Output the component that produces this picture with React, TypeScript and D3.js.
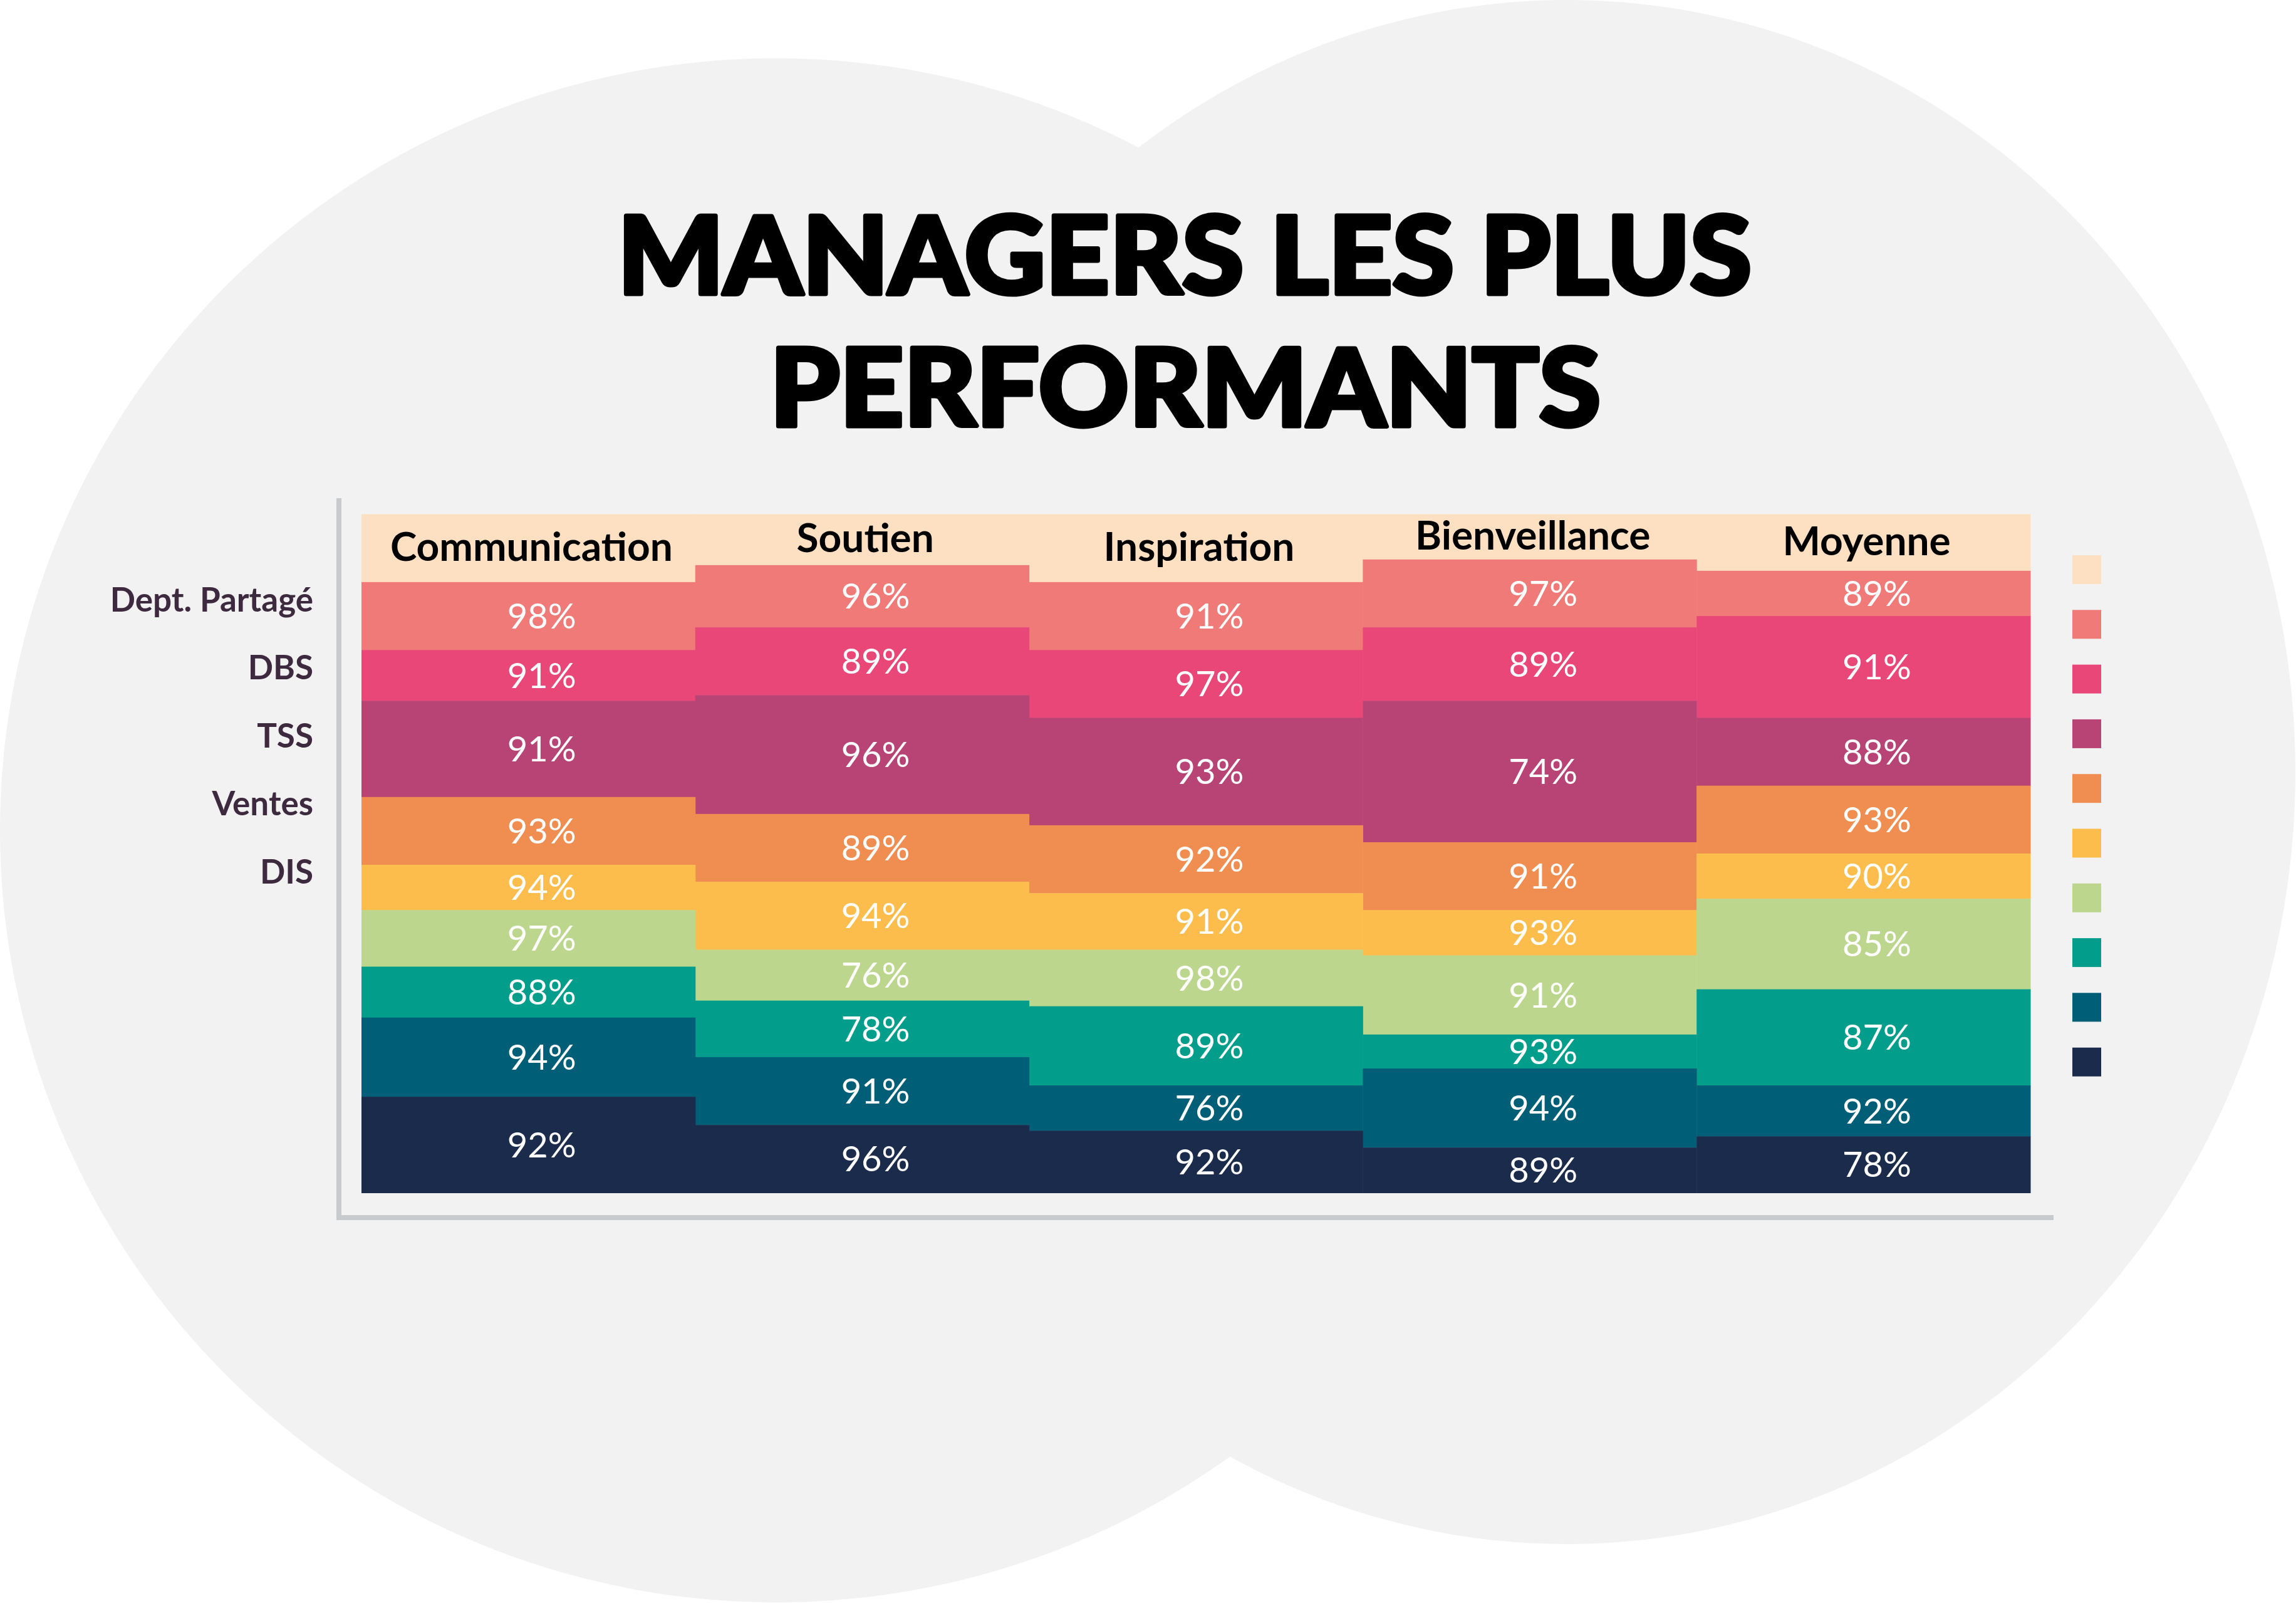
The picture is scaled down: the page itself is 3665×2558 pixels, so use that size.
import React from "react";
import * as d3 from "d3";

// ---------- DATA ----------
const categories = ["Communication", "Soutien", "Inspiration", "Bienveillance", "Moyenne"];

// stack series, top to bottom (first one is the header band)
const seriesKeys = ["header", "s1", "s2", "s3", "s4", "s5", "s6", "s7", "s8", "s9"];
const seriesColors = [
  "#fddfc1", "#ef7a78", "#e84777", "#b84475", "#f08d50",
  "#fcbd4c", "#bcd68e", "#039e8b", "#005f77", "#1b2b4b",
];

// segment sizes (top to bottom) for each category
const communicationSizes = [12, 12, 9, 17, 12, 8, 10, 9, 14, 17];
const soutienSizes = [9, 11, 12, 21, 12, 12, 9, 10, 12, 12];
const inspirationSizes = [12, 12, 12, 19, 12, 10, 10, 14, 8, 11];
const bienveillanceSizes = [8, 12, 13, 25, 12, 8, 14, 6, 14, 8];
const moyenneSizes = [10, 8, 18, 12, 12, 8, 16, 17, 9, 10];

// percentage labels (segments s1..s9)
const communicationLabels = ["98%", "91%", "91%", "93%", "94%", "97%", "88%", "94%", "92%"];
const soutienLabels = ["96%", "89%", "96%", "89%", "94%", "76%", "78%", "91%", "96%"];
const inspirationLabels = ["91%", "97%", "93%", "92%", "91%", "98%", "89%", "76%", "92%"];
const bienveillanceLabels = ["97%", "89%", "74%", "91%", "93%", "91%", "93%", "94%", "89%"];
const moyenneLabels = ["89%", "91%", "88%", "93%", "90%", "85%", "87%", "92%", "78%"];

const rowLabels = ["Dept. Partagé", "DBS", "TSS", "Ventes", "DIS"];
const titleLines = ["MANAGERS LES PLUS", "PERFORMANTS"];

// ---------- LAYOUT ----------
const W = 3665;
const H = 2558;
const FONT = "Lato, 'Open Sans', 'DejaVu Sans', sans-serif";

const allSizes = [communicationSizes, soutienSizes, inspirationSizes, bienveillanceSizes, moyenneSizes];
const allLabels = [communicationLabels, soutienLabels, inspirationLabels, bienveillanceLabels, moyenneLabels];

type Row = { cat: string; [k: string]: any };
const rows: Row[] = categories.map((cat, ci) => {
  const r: Row = { cat };
  seriesKeys.forEach((k, si) => (r[k] = allSizes[ci][si]));
  return r;
});

export default function App() {
  const stack = d3.stack<Row>().keys(seriesKeys).order(d3.stackOrderNone).offset(d3.stackOffsetNone);
  const stacked = stack(rows);
  const total = d3.max(rows, (r) => d3.sum(seriesKeys, (k) => r[k] as number)) as number;

  const x = d3.scaleBand<string>().domain(categories).range([577, 3241]).padding(0);
  const y = d3.scaleLinear().domain([0, total]).range([820.6, 1903.5]);
  const color = d3.scaleOrdinal<string, string>().domain(seriesKeys).range(seriesColors);
  const legendY = d3.scaleBand<string>().domain(seriesKeys).range([886, 886 + 87.3 * seriesKeys.length]);
  const rowY = d3.scalePoint<string>().domain(rowLabels).range([975.7, 1410]);

  const bw = x.bandwidth();

  return (
    <svg
      width={W}
      height={H}
      viewBox={`0 0 ${W} ${H}`}
      style={{ position: "absolute", left: 0, top: 0, display: "block" }}
    >
      <rect x={0} y={0} width={W} height={H} fill="#ffffff" />
      {/* background blobs */}
      <ellipse cx={1239} cy={1325} rx={1239} ry={1232} fill="#f2f2f2" />
      <ellipse cx={2501} cy={1232} rx={1163} ry={1232} fill="#f2f2f2" />

      {/* title */}
      <g
        fontFamily={FONT}
        fontWeight={900}
        fill="#000000"
        stroke="#000000"
        strokeWidth={7}
        strokeLinejoin="round"
        textAnchor="middle"
      >
        <text x={1891} y={469} fontSize={172} textLength={1810} lengthAdjust="spacingAndGlyphs">
          {titleLines[0]}
        </text>
        <text x={1892} y={680} fontSize={172} textLength={1326} lengthAdjust="spacingAndGlyphs">
          {titleLines[1]}
        </text>
      </g>

      {/* axis lines */}
      <rect x={537} y={795} width={8} height={1152} fill="#c7cbce" />
      <rect x={537} y={1939} width={2741} height={8} fill="#c7cbce" />

      {/* stacked segments */}
      {stacked.map((s) => (
        <g key={s.key} fill={color(s.key)}>
          {s.map((d, i) => (
            <rect
              key={i}
              x={x(d.data.cat)}
              y={y(d[0])}
              width={bw + 0.5}
              height={y(d[1]) - y(d[0]) + 0.5}
            />
          ))}
        </g>
      ))}

      {/* header labels */}
      <g fontFamily={FONT} fontWeight={700} fill="#000000" fontSize={64} textAnchor="middle">
        {stacked[0].map((d, i) => (
          <text key={i} x={(x(d.data.cat) as number) + bw / 2 + 5} y={(y(d[0]) + y(d[1])) / 2 + 20}>
            {d.data.cat}
          </text>
        ))}
      </g>

      {/* percentage labels */}
      <g fontFamily={FONT} fontWeight={400} fill="#ffffff" fontSize={56}>
        {stacked.slice(1).map((s, si) =>
          s.map((d, ci) => (
            <text
              key={`${si}-${ci}`}
              x={(x(d.data.cat) as number) + bw * 0.437}
              y={(y(d[0]) + y(d[1])) / 2 + 20}
            >
              {allLabels[ci][si]}
            </text>
          ))
        )}
      </g>

      {/* row labels */}
      <g fontFamily={FONT} fontWeight={700} fill="#3d2a3e" fontSize={53} textAnchor="end">
        {rowLabels.map((l) => (
          <text key={l} x={500} y={rowY(l)}>
            {l}
          </text>
        ))}
      </g>

      {/* legend */}
      <g>
        {seriesKeys.map((k) => (
          <rect key={k} x={3308} y={legendY(k)} width={46} height={46} fill={color(k)} />
        ))}
      </g>
    </svg>
  );
}
